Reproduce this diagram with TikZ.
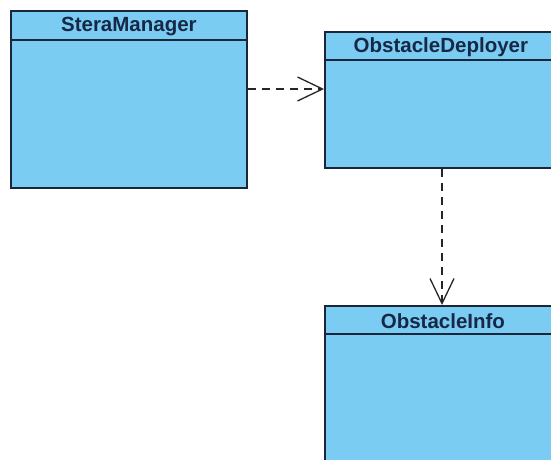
\documentclass[tikz,border=0pt]{standalone}
\usepackage{fontspec}
\setmainfont{Liberation Sans}
\usetikzlibrary{arrows.meta}
\definecolor{classfill}{RGB}{122,204,242}
\definecolor{classline}{RGB}{28,38,58}
\definecolor{classtext}{RGB}{22,40,70}
\begin{document}
\begin{tikzpicture}[x=1pt,y=-1pt,
 classbox/.style={draw=classline, line width=1.8pt, fill=classfill, rectangle, anchor=north west, inner sep=0pt},
 headline/.style={draw=classline, line width=1.8pt},
 classname/.style={font=\fontsize{20.5}{22}\selectfont\bfseries, text=classtext, anchor=center, inner sep=0pt},
 dep/.style={draw=black!85, line width=1.4pt, dash pattern=on 8pt off 6pt, -{Straight Barb[length=25pt,width=24pt,line width=1.3pt]}}]
\fill[white] (0,0) rectangle (551,460);
\useasboundingbox (0,0) rectangle (551,460);
\clip (0,0) rectangle (551,460);
% classes
\node[classbox, minimum width=236pt, minimum height=177pt] (sm) at (10,10) {};
\node[classbox, minimum width=250pt, minimum height=136pt] (od) at (324,31) {};
\node[classbox, minimum width=250pt, minimum height=180pt] (oi) at (324,305) {};
% header separators
\draw[headline] ([yshift=-30pt]sm.north west) -- ([yshift=-30pt]sm.north east);
\draw[headline] ([yshift=-29pt]od.north west) -- ([yshift=-29pt]od.north east);
\draw[headline] ([yshift=-29pt]oi.north west) -- ([yshift=-29pt]oi.north east);
% names
\node[classname] (smname) at ([yshift=-17pt]sm.north) {SteraManager};
\node[classname] (odname) at ([xshift=-9pt,yshift=-16pt]od.north) {ObstacleDeployer};
\node[classname] (oiname) at ([xshift=-7pt,yshift=-16pt]oi.north) {ObstacleInfo};
% dependencies
\draw[dep] ([yshift=-79pt]sm.north east) -- ([yshift=-58pt]od.north west);
\draw[dep] ([xshift=118pt]od.south west) -- ([xshift=118pt]oi.north west);
\end{tikzpicture}
\end{document}
